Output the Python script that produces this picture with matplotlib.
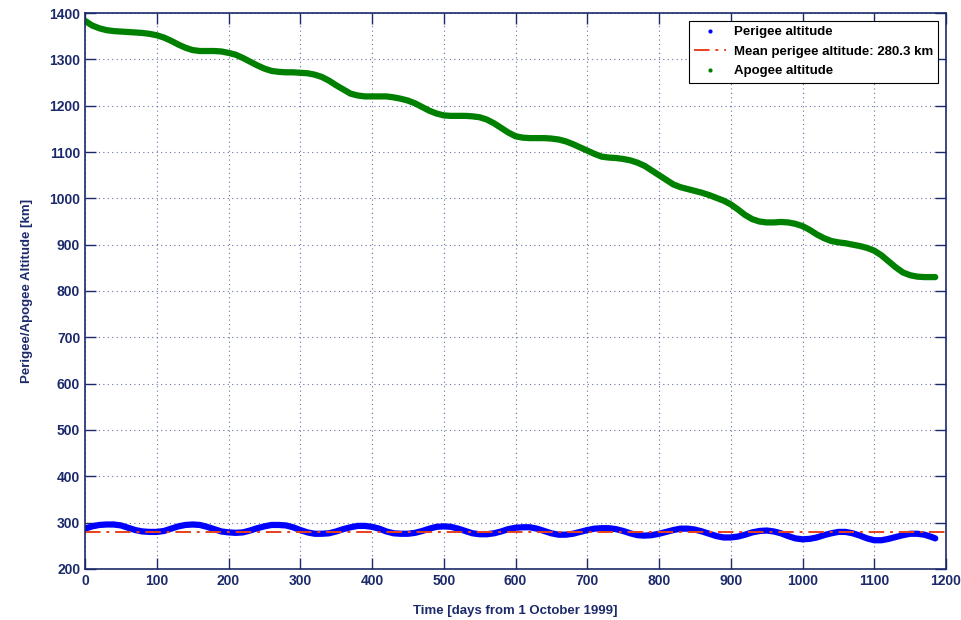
import matplotlib
matplotlib.use("Agg")
import matplotlib.pyplot as plt
from matplotlib.lines import Line2D

plt.rcParams['font.family'] = ['Liberation Sans', 'DejaVu Sans']

# Data
apogee_days = [0, 10, 20, 30, 40, 50, 60, 70, 80, 90, 100, 110, 120, 130, 140, 150, 160, 170,
               180, 190, 200, 210, 220, 230, 240, 250, 260, 270, 280, 290, 300, 310, 320, 330,
               340, 350, 360, 370, 380, 390, 400, 410, 420, 430, 440, 450, 460, 470, 480, 490,
               500, 510, 520, 530, 540, 550, 560, 570, 580, 590, 600, 610, 620, 630, 640, 650,
               660, 670, 680, 690, 700, 710, 720, 730, 740, 750, 760, 770, 780, 790, 800, 810,
               820, 830, 840, 850, 860, 870, 880, 890, 900, 910, 920, 930, 940, 950, 960, 970,
               980, 990, 1000, 1010, 1020, 1030, 1040, 1050, 1060, 1070, 1080, 1090, 1100, 1110,
               1120, 1130, 1140, 1150, 1160, 1170, 1185]
apogee_alt = [1383, 1373, 1367, 1363, 1361, 1360, 1359, 1358, 1357, 1355, 1352, 1347, 1340,
              1332, 1325, 1320, 1318, 1318, 1318, 1317, 1314, 1310, 1303, 1295, 1287, 1280,
              1275, 1273, 1272, 1272, 1271, 1270, 1267, 1262, 1254, 1244, 1235, 1226, 1222,
              1220, 1220, 1220, 1220, 1218, 1215, 1211, 1205, 1197, 1189, 1183, 1179, 1178,
              1178, 1178, 1177, 1175, 1170, 1162, 1152, 1142, 1134, 1131, 1130, 1130, 1130,
              1129, 1127, 1123, 1117, 1110, 1103, 1096, 1090, 1088, 1087, 1085, 1082, 1077,
              1070, 1060, 1050, 1040, 1030, 1024, 1020, 1016, 1012, 1007, 1001, 995, 987, 976,
              964, 955, 950, 948, 948, 949, 948, 945, 940, 932, 922, 914, 908, 905, 903, 900,
              897, 893, 887, 877, 864, 851, 840, 834, 831, 830, 830]

perigee_days = [0, 10, 20, 30, 40, 50, 60, 70, 80, 90, 100, 110, 120, 130, 140, 150, 160, 170,
                180, 190, 200, 210, 220, 230, 240, 250, 260, 270, 280, 290, 300, 310, 320, 330,
                340, 350, 360, 370, 380, 390, 400, 410, 420, 430, 440, 450, 460, 470, 480, 490,
                500, 510, 520, 530, 540, 550, 560, 570, 580, 590, 600, 610, 620, 630, 640, 650,
                660, 670, 680, 690, 700, 710, 720, 730, 740, 750, 760, 770, 780, 790, 800, 810,
                820, 830, 840, 850, 860, 870, 880, 890, 900, 910, 920, 930, 940, 950, 960, 970,
                980, 990, 1000, 1010, 1020, 1030, 1040, 1050, 1060, 1070, 1080, 1090, 1100, 1110,
                1120, 1130, 1140, 1150, 1160, 1170, 1180, 1185]
perigee_alt = [287, 292, 295, 296, 296, 294, 289, 284, 281, 280, 280, 282, 287, 292, 295, 296,
               295, 291, 286, 281, 279, 278, 279, 283, 288, 292, 295, 295, 294, 290, 284, 279,
               276, 276, 277, 281, 286, 290, 293, 293, 291, 287, 281, 277, 276, 276, 278, 282,
               287, 291, 292, 291, 287, 282, 277, 275, 275, 277, 281, 286, 289, 290, 290, 287,
               282, 277, 274, 274, 276, 280, 284, 287, 288, 288, 286, 282, 277, 273, 272, 273,
               276, 280, 284, 287, 287, 285, 281, 276, 271, 268, 268, 270, 274, 279, 282, 283,
               281, 277, 271, 266, 264, 265, 268, 273, 277, 280, 280, 277, 272, 266, 262, 262,
               265, 269, 273, 276, 276, 274, 269, 266]

mean_perigee = 280.3
x_ticks = [0, 100, 200, 300, 400, 500, 600, 700, 800, 900, 1000, 1100, 1200]
y_ticks = [200, 300, 400, 500, 600, 700, 800, 900, 1000, 1100, 1200, 1300, 1400]

navy = '#1c2a6b'

fig = plt.figure(figsize=(9.61, 6.2), dpi=100)
ax = fig.add_axes([0.0885, 0.0823, 0.8959, 0.8967])

ax.plot(perigee_days, perigee_alt, color='#0000ff', lw=4.5, solid_capstyle='round',
        solid_joinstyle='round')
ax.plot([0, 1200], [mean_perigee, mean_perigee], color='#e8401c', lw=1.4, linestyle='-.',
        dashes=(8, 3, 1.5, 3))
ax.plot(apogee_days, apogee_alt, color='#008000', lw=4.5, solid_capstyle='round',
        solid_joinstyle='round')

ax.set_xlim(0, 1200)
ax.set_ylim(200, 1400)
ax.set_xticks(x_ticks)
ax.set_yticks(y_ticks)
ax.grid(True, linestyle=(0, (1, 3)), color='#33428a', lw=0.8, alpha=0.75)
ax.tick_params(direction='in', length=8, width=1, colors=navy, top=True, right=True,
               labelsize=10)
for lab in ax.get_xticklabels() + ax.get_yticklabels():
    lab.set_fontweight('bold')
for s in ax.spines.values():
    s.set_color(navy)
    s.set_linewidth(1.2)

ax.set_xlabel('Time [days from 1 October 1999]', fontsize=9.5, fontweight='bold', color=navy,
              labelpad=12)
ax.set_ylabel('Perigee/Apogee Altitude [km]', fontsize=9.5, fontweight='bold', color=navy,
              labelpad=12)

handles = [
    Line2D([], [], color='#0000ff', marker='.', linestyle='none', markersize=4),
    Line2D([], [], color='#e8401c', linestyle='-.', lw=1.4, dashes=(8, 3, 1.5, 3)),
    Line2D([], [], color='#008000', marker='.', linestyle='none', markersize=4),
]
labels = ['Perigee altitude', 'Mean perigee altitude: 280.3 km', 'Apogee altitude']
leg = ax.legend(handles, labels, loc='upper right', fancybox=False, framealpha=1,
                edgecolor='black', prop={'weight': 'bold', 'size': 9.5}, borderaxespad=0.6,
                handlelength=2.4, labelspacing=0.55, handletextpad=0.6)
leg.get_frame().set_linewidth(0.8)

fig.savefig('out.png', dpi=100, facecolor='white')
